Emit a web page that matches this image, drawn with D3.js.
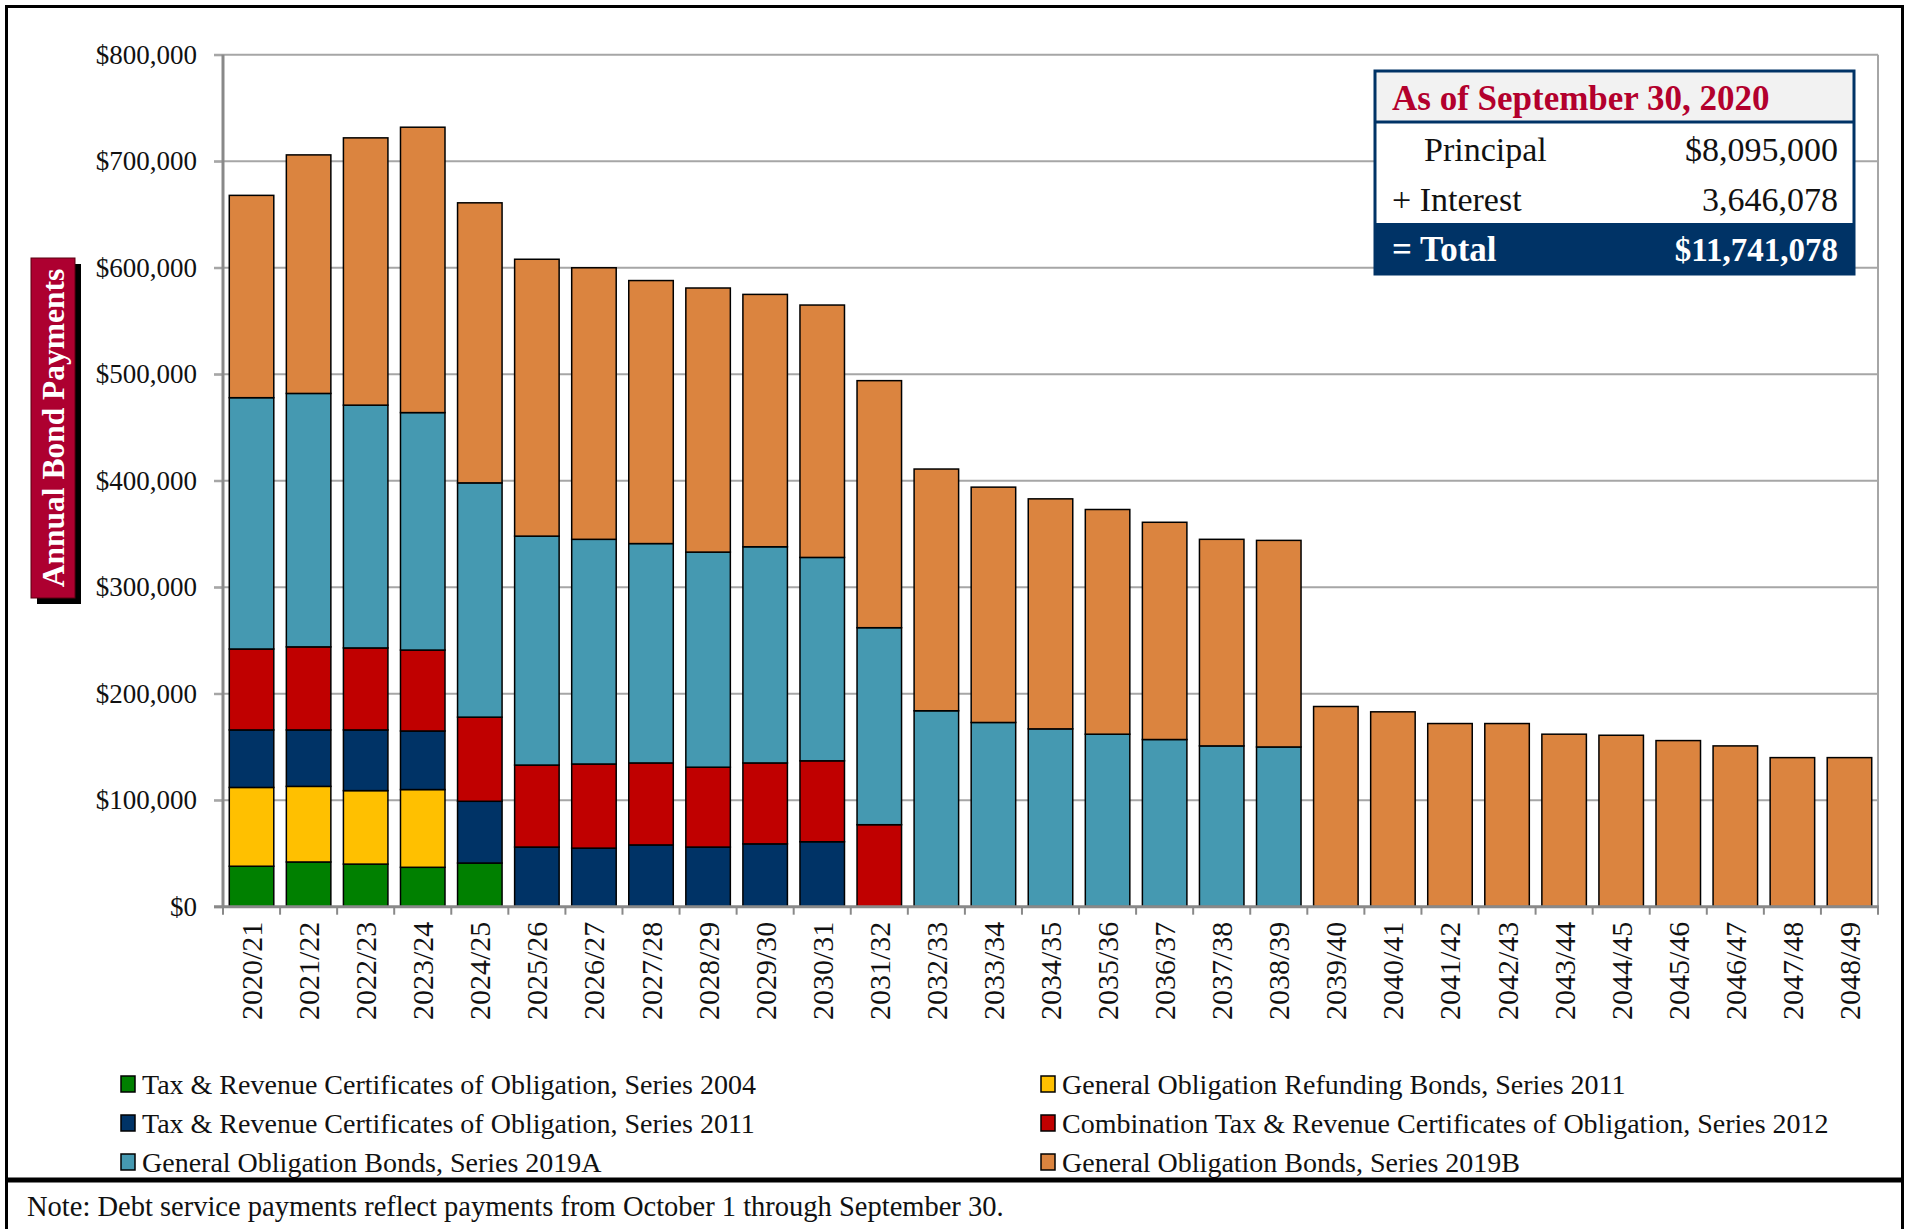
<!DOCTYPE html>
<html>
<head>
<meta charset="utf-8">
<script src="https://cdnjs.cloudflare.com/ajax/libs/d3/7.8.5/d3.min.js"></script>
<style>
  body { margin: 0; background: #fff; }
  svg { display: block; font-family: "Liberation Serif", "Times New Roman", serif; }
</style>
</head>
<body>
<div id="chart"></div>
<script>
// fiscal years
var years = ["2020/21","2021/22","2022/23","2023/24","2024/25","2025/26","2026/27","2027/28",
  "2028/29","2029/30","2030/31","2031/32","2032/33","2033/34","2034/35","2035/36","2036/37",
  "2037/38","2038/39","2039/40","2040/41","2041/42","2042/43","2043/44","2044/45","2045/46",
  "2046/47","2047/48","2048/49"];

// series, bottom of the stack first
var seriesNames = [
  "Tax & Revenue Certificates of Obligation, Series 2004",
  "General Obligation Refunding Bonds, Series 2011",
  "Tax & Revenue Certificates of Obligation, Series 2011",
  "Combination Tax & Revenue Certificates of Obligation, Series 2012",
  "General Obligation Bonds, Series 2019A",
  "General Obligation Bonds, Series 2019B"
];
var seriesColors = ["#008000", "#ffc000", "#003366", "#c00000", "#4599b1", "#db843f"];

// payments in $ thousands
var trco2004 = [38,42,40,37,41,0,0,0,0,0,0,0,0,0,0,0,0,0,0,0,0,0,0,0,0,0,0,0,0];
var goRef2011 = [74,71,69,73,0,0,0,0,0,0,0,0,0,0,0,0,0,0,0,0,0,0,0,0,0,0,0,0,0];
var trco2011 = [54,53,57,55,58,56,55,58,56,59,61,0,0,0,0,0,0,0,0,0,0,0,0,0,0,0,0,0,0];
var comb2012 = [76,78,77,76,79,77,79,77,75,76,76,77,0,0,0,0,0,0,0,0,0,0,0,0,0,0,0,0,0];
var go2019a = [236,238,228,223,220,215,211,206,202,203,191,185,184,173,167,162,157,151,150,
  0,0,0,0,0,0,0,0,0,0];
var go2019b = [190,224,251,268,263,260,255,247,248,237,237,232,227,221,216,211,204,194,194,
  188,183,172,172,162,161,156,151,140,140];

var yTicks = [0,100000,200000,300000,400000,500000,600000,700000,800000];

// summary box
var boxTitle = "As of September 30, 2020";
var boxLabels = ["Principal", "+ Interest", "= Total"];
var boxValues = ["$8,095,000", "3,646,078", "$11,741,078"];

var note = "Note: Debt service payments reflect payments from October 1 through September 30.";

var W = 1911, H = 1229;
var plotL = 223, plotR = 1878, plotT = 54.8, plotB = 906.7;

var svg = d3.select('#chart').append('svg')
  .attr('width', W)
  .attr('height', H);

svg.append('rect').attr('width', W).attr('height', H).attr('fill', '#fff');

// build table for the stack
var allSeries = [trco2004, goRef2011, trco2011, comb2012, go2019a, go2019b];
var keys = d3.range(allSeries.length);
var table = years.map(function(yr, i) {
  var row = { year: yr };
  keys.forEach(function(k) { row[k] = allSeries[k][i] * 1000; });
  return row;
});
var stacked = d3.stack().keys(keys)(table);

var x = d3.scaleBand().domain(years).range([plotL, plotR]).paddingInner(0.22).paddingOuter(0.11);
var y = d3.scaleLinear().domain([0, 800000]).range([plotB, plotT]);

// gridlines
svg.append('g').selectAll('line')
  .data(yTicks.slice(1))
  .enter().append('line')
  .attr('x1', plotL - 9).attr('x2', plotR)
  .attr('y1', function(d) { return y(d); })
  .attr('y2', function(d) { return y(d); })
  .attr('stroke', '#a6a6a6')
  .attr('stroke-width', 2);

// right border of plot
svg.append('line')
  .attr('x1', plotR).attr('x2', plotR)
  .attr('y1', plotT).attr('y2', plotB)
  .attr('stroke', '#a6a6a6').attr('stroke-width', 2);

// y axis labels
var yAxis = d3.axisLeft(y)
  .tickValues(yTicks)
  .tickSize(9)
  .tickPadding(17)
  .tickFormat(function(d) { return '$' + d3.format(',')(d); });
var ya = svg.append('g').attr('transform', 'translate(' + plotL + ',0)').call(yAxis);
ya.select('.domain').remove();
ya.selectAll('line').attr('stroke', '#a6a6a6').attr('stroke-width', 2);
ya.selectAll('text')
  .attr('font-family', '"Liberation Serif", serif')
  .attr('font-size', 27)
  .attr('fill', '#111');

// bars
svg.append('g').selectAll('g')
  .data(stacked)
  .enter().append('g')
  .attr('fill', function(d, i) { return seriesColors[i]; })
  .selectAll('rect')
  .data(function(d) { return d.filter(function(s) { return s[1] - s[0] > 0; }); })
  .enter().append('rect')
  .attr('x', function(d) { return x(d.data.year); })
  .attr('y', function(d) { return y(d[1]); })
  .attr('width', x.bandwidth())
  .attr('height', function(d) { return y(d[0]) - y(d[1]); })
  .attr('stroke', '#000')
  .attr('stroke-width', 1.5);

// axes lines
svg.append('line')
  .attr('x1', plotL).attr('x2', plotL)
  .attr('y1', plotT).attr('y2', plotB + 1)
  .attr('stroke', '#898989').attr('stroke-width', 3);
svg.append('line')
  .attr('x1', plotL - 9).attr('x2', plotR + 1)
  .attr('y1', plotB).attr('y2', plotB)
  .attr('stroke', '#898989').attr('stroke-width', 3);

// x ticks at category boundaries
var step = x.step();
svg.append('g').selectAll('line')
  .data(d3.range(years.length + 1))
  .enter().append('line')
  .attr('x1', function(i) { return plotL + i * step; })
  .attr('x2', function(i) { return plotL + i * step; })
  .attr('y1', plotB).attr('y2', plotB + 8)
  .attr('stroke', '#898989').attr('stroke-width', 2);

// x labels
svg.append('g').selectAll('text')
  .data(years)
  .enter().append('text')
  .attr('transform', function(d) {
    return 'translate(' + (x(d) + x.bandwidth() / 2) + ',' + (plotB + 15) + ') rotate(-90)';
  })
  .attr('text-anchor', 'end')
  .attr('dy', '0.35em')
  .attr('font-size', 30)
  .attr('fill', '#111')
  .text(function(d) { return d; });

// y axis title box
var tb = svg.append('g');
tb.append('rect').attr('x', 37).attr('y', 264).attr('width', 44).attr('height', 340).attr('fill', '#000');
tb.append('rect').attr('x', 31).attr('y', 258).attr('width', 44).attr('height', 340)
  .attr('fill', '#ad0030').attr('stroke', '#5a0010').attr('stroke-width', 1);
tb.append('text')
  .attr('transform', 'translate(53,428) rotate(-90)')
  .attr('text-anchor', 'middle')
  .attr('dy', '0.35em')
  .attr('font-size', 31.5)
  .attr('font-weight', 'bold')
  .attr('fill', '#fff')
  .text('Annual Bond Payments');

// summary box
var bx = 1375, bw = 479, by = 71;
var box = svg.append('g');
box.append('rect').attr('x', bx).attr('y', by).attr('width', bw).attr('height', 203).attr('fill', '#fff');
box.append('rect').attr('x', bx).attr('y', by).attr('width', bw).attr('height', 51).attr('fill', '#f2f2f2');
box.append('rect').attr('x', bx).attr('y', 223).attr('width', bw).attr('height', 51).attr('fill', '#003366');
box.append('line').attr('x1', bx).attr('x2', bx + bw).attr('y1', 122).attr('y2', 122)
  .attr('stroke', '#003366').attr('stroke-width', 3);
box.append('rect').attr('x', bx).attr('y', by).attr('width', bw).attr('height', 203)
  .attr('fill', 'none').attr('stroke', '#003366').attr('stroke-width', 3);
box.append('text').attr('x', 1392).attr('y', 110)
  .attr('font-size', 35).attr('font-weight', 'bold').attr('fill', '#b3002d')
  .text(boxTitle);
var rowY = [161, 211, 261];
var labelX = [1424, 1392, 1392];
boxLabels.forEach(function(lab, i) {
  var last = i === boxLabels.length - 1;
  box.append('text').attr('x', labelX[i]).attr('y', rowY[i])
    .attr('font-size', last ? 35 : 34)
    .attr('font-weight', last ? 'bold' : 'normal')
    .attr('fill', last ? '#fff' : '#111')
    .text(lab);
  box.append('text').attr('x', 1838).attr('y', rowY[i])
    .attr('text-anchor', 'end')
    .attr('font-size', last ? 33 : 34)
    .attr('font-weight', last ? 'bold' : 'normal')
    .attr('fill', last ? '#fff' : '#111')
    .text(boxValues[i]);
});

// legend, two columns
var legX = [121, 1041], legY = [1084, 1123, 1162];
var leg = svg.append('g').selectAll('g')
  .data(seriesNames)
  .enter().append('g')
  .attr('transform', function(d, i) {
    return 'translate(' + legX[i % 2] + ',' + legY[Math.floor(i / 2)] + ')';
  });
leg.append('rect')
  .attr('x', 0).attr('y', -8).attr('width', 14).attr('height', 16)
  .attr('fill', function(d, i) { return seriesColors[i]; })
  .attr('stroke', '#000').attr('stroke-width', 1.5);
leg.append('text')
  .attr('x', 21).attr('dy', '0.35em')
  .attr('font-size', 28)
  .attr('fill', '#111')
  .text(function(d) { return d; });

// frame and note
svg.append('rect').attr('x', 6.5).attr('y', 6.5).attr('width', 1896).attr('height', 1240)
  .attr('fill', 'none').attr('stroke', '#000').attr('stroke-width', 3);
svg.append('line').attr('x1', 6).attr('x2', 1904).attr('y1', 1180).attr('y2', 1180)
  .attr('stroke', '#000').attr('stroke-width', 5);
svg.append('text').attr('x', 27).attr('y', 1216)
  .attr('font-size', 28.5).attr('fill', '#111')
  .text(note);
</script>
</body>
</html>
